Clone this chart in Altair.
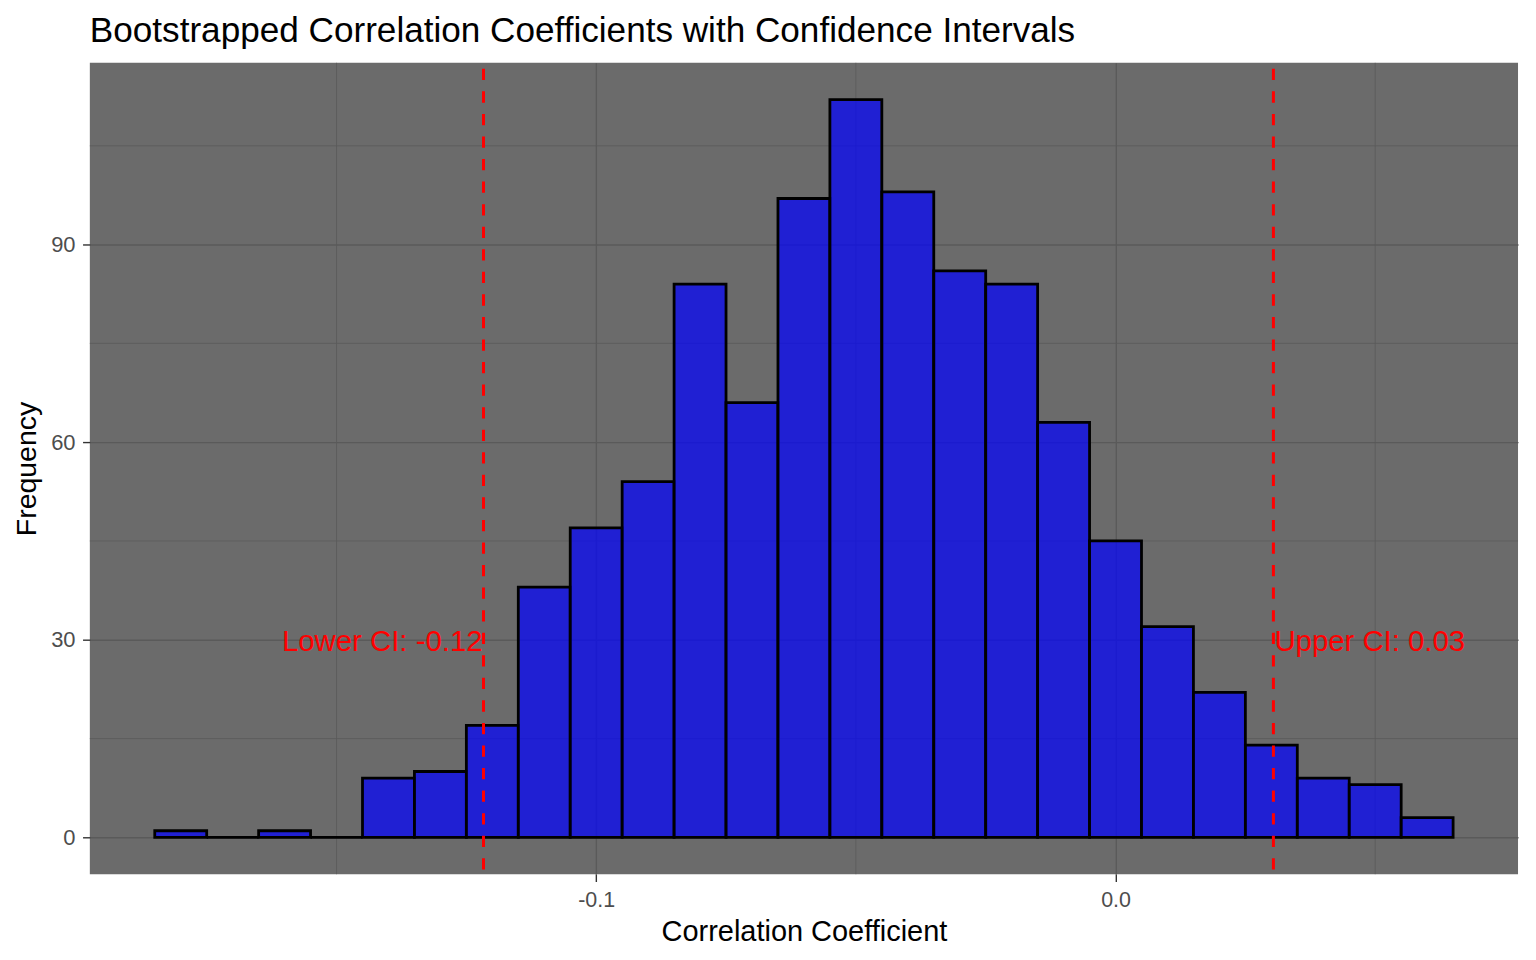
import altair as alt
import pandas as pd

# ---- data ----
bin_centers = [-0.18, -0.17, -0.16, -0.15, -0.14, -0.13, -0.12, -0.11, -0.10,
               -0.09, -0.08, -0.07, -0.06, -0.05, -0.04, -0.03, -0.02, -0.01,
               0.00, 0.01, 0.02, 0.03, 0.04, 0.05, 0.06]
counts = [1, 0, 1, 0, 9, 10, 17, 38, 47, 54, 84, 66, 97, 112, 98, 86, 84, 63,
          45, 32, 22, 14, 9, 8, 3]
bin_width = 0.01

ci_values = [-0.1217, 0.0304]
ci_labels = ["Lower CI: -0.12", "Upper CI: 0.03"]
ci_sides = ["lower", "upper"]
ci_label_y = [30, 30]

x_major = [-0.1, 0.0]
x_minor = [-0.15, -0.05, 0.05]
y_major = [0, 30, 60, 90]
y_minor = [15, 45, 75, 105]

# ---- layout / style ----
W, H = 1431, 813
FONT = "Liberation Sans"
PANEL = "#6b6b6b"
GRID = "#5a5a5a"

x_scale = alt.Scale(domain=[-0.1975, 0.0775], nice=False, zero=False)
y_scale = alt.Scale(domain=[-5.6, 117.6], nice=False, zero=False)

hist = pd.DataFrame({"center": bin_centers, "count": counts})
ci = pd.DataFrame({"ci": ci_values, "label": ci_labels, "side": ci_sides, "ly": ci_label_y})
xminor_df = pd.DataFrame({"v": x_minor})
yminor_df = pd.DataFrame({"v": y_minor})

x_axis = alt.Axis(
    values=x_major,
    labelExpr="datum.value < 0 ? '-' + format(abs(datum.value), '.1f') : format(datum.value, '.1f')",
    title="Correlation Coefficient",
    grid=True, gridColor=GRID, gridWidth=1.4,
    domain=False,
    ticks=True, tickColor="#333333", tickWidth=1.4, tickSize=7.3,
    labelColor="#4d4d4d", labelFontSize=21.5, labelFont=FONT, labelPadding=8,
    titleFont=FONT, titleFontSize=29, titleColor="black", titleFontWeight="normal",
    titleBaseline="alphabetic", titleX=W / 2, titleY=66,
)
y_axis = alt.Axis(
    values=y_major, format="d",
    title="Frequency",
    grid=True, gridColor=GRID, gridWidth=1.4,
    domain=False,
    ticks=True, tickColor="#333333", tickWidth=1.4, tickSize=7.3,
    labelColor="#4d4d4d", labelFontSize=22, labelFont=FONT, labelPadding=7.5,
    titleFont=FONT, titleFontSize=28.5, titleColor="black", titleFontWeight="normal",
    titleAngle=270, titleBaseline="alphabetic", titleX=-54.6, titleY=H / 2,
)

minor_x = alt.Chart(xminor_df).mark_rule(color=GRID, strokeWidth=0.8).encode(
    x=alt.X("v:Q", scale=x_scale, title="Correlation Coefficient")
)
minor_y = alt.Chart(yminor_df).mark_rule(color=GRID, strokeWidth=0.8).encode(
    y=alt.Y("v:Q", scale=y_scale, title="Frequency")
)

bars = alt.Chart(hist).transform_calculate(
    x0=f"datum.center - {bin_width / 2}",
    x1=f"datum.center + {bin_width / 2}",
    base="0",
).mark_rect(fill="blue", fillOpacity=0.7, stroke="black", strokeWidth=2.8).encode(
    x=alt.X("x0:Q", scale=x_scale, axis=x_axis),
    x2="x1:Q",
    y=alt.Y("count:Q", scale=y_scale, axis=y_axis),
    y2="base:Q",
)

ci_rules = alt.Chart(ci).mark_rule(
    color="red", strokeWidth=3, strokeDash=[11.3, 11.3], strokeDashOffset=16.6
).encode(
    x=alt.X("ci:Q", scale=x_scale, title="Correlation Coefficient"),
    y=alt.value(0),
    y2=alt.value(H),
)

lower_text = alt.Chart(ci).transform_filter("datum.side == 'lower'").mark_text(
    align="right", baseline="alphabetic", dx=-1, dy=11, color="red",
    font=FONT, fontSize=29.4
).encode(
    x=alt.X("ci:Q", scale=x_scale, title="Correlation Coefficient"),
    y=alt.Y("ly:Q", scale=y_scale, title="Frequency"),
    text="label:N",
)
upper_text = alt.Chart(ci).transform_filter("datum.side == 'upper'").mark_text(
    align="left", baseline="alphabetic", dx=1, dy=11, color="red",
    font=FONT, fontSize=29.4
).encode(
    x=alt.X("ci:Q", scale=x_scale, title="Correlation Coefficient"),
    y=alt.Y("ly:Q", scale=y_scale, title="Frequency"),
    text="label:N",
)

chart = alt.layer(minor_x, minor_y, bars, ci_rules, lower_text, upper_text).properties(
    width=W,
    height=H,
    padding={"left": 82, "top": 54, "right": 10, "bottom": 80},
    autosize=alt.AutoSizeParams(type="none"),
    background="white",
    title=alt.TitleParams(
        "Bootstrapped Correlation Coefficients with Confidence Intervals",
        anchor="start", frame="group", font=FONT, fontSize=35.2,
        fontWeight="normal", color="black", baseline="alphabetic", offset=-16,
    ),
).configure_view(fill=PANEL, strokeWidth=0)

chart.save("out.html", embed_options={"renderer": "svg", "actions": False})
